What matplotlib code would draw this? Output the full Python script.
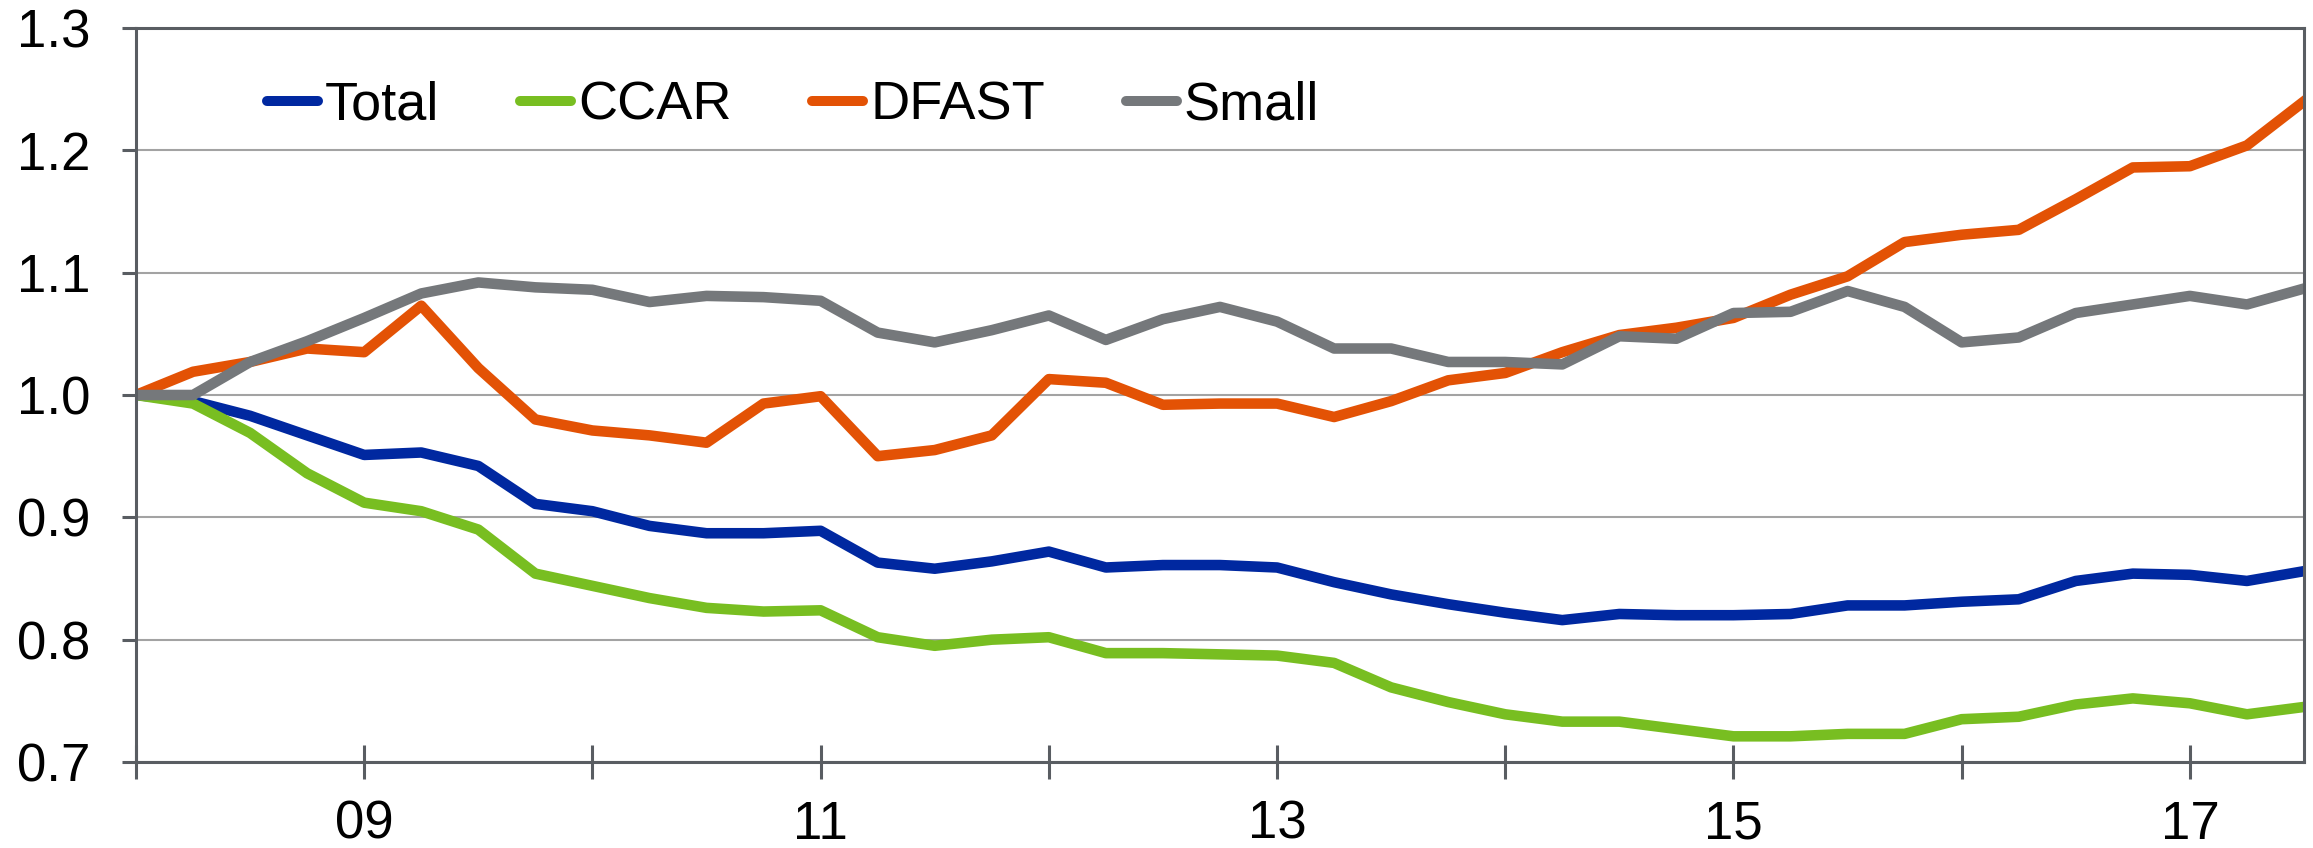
import numpy as np
import matplotlib
matplotlib.use("Agg")
import matplotlib.pyplot as plt

plt.rcParams['font.family'] = ['Liberation Sans', 'DejaVu Sans']

# quarterly index values, 2008Q1 = 1.0
total = [1.000, 0.995, 0.983, 0.967, 0.951, 0.953, 0.942, 0.911, 0.905, 0.893,
         0.887, 0.887, 0.889, 0.863, 0.858, 0.864, 0.872, 0.859, 0.861, 0.861,
         0.859, 0.847, 0.837, 0.829, 0.822, 0.816, 0.821, 0.820, 0.820, 0.821,
         0.828, 0.828, 0.831, 0.833, 0.848, 0.854, 0.853, 0.848, 0.856]
ccar = [1.000, 0.993, 0.969, 0.936, 0.912, 0.905, 0.890, 0.854, 0.844, 0.834,
        0.826, 0.823, 0.824, 0.802, 0.795, 0.800, 0.802, 0.789, 0.789, 0.788,
        0.787, 0.781, 0.761, 0.749, 0.739, 0.733, 0.733, 0.727, 0.721, 0.721,
        0.723, 0.723, 0.735, 0.737, 0.747, 0.752, 0.748, 0.739, 0.745]
dfast = [1.000, 1.019, 1.027, 1.038, 1.035, 1.073, 1.022, 0.980, 0.971, 0.967,
         0.961, 0.993, 0.999, 0.950, 0.955, 0.967, 1.013, 1.010, 0.992, 0.993,
         0.993, 0.982, 0.995, 1.012, 1.018, 1.035, 1.049, 1.055, 1.063, 1.082,
         1.097, 1.125, 1.131, 1.135, 1.160, 1.186, 1.187, 1.204, 1.240]
small = [1.000, 1.000, 1.027, 1.044, 1.063, 1.083, 1.092, 1.088, 1.086, 1.076,
         1.081, 1.080, 1.077, 1.051, 1.043, 1.053, 1.065, 1.045, 1.062, 1.072,
         1.060, 1.038, 1.038, 1.027, 1.027, 1.025, 1.048, 1.046, 1.067, 1.068,
         1.085, 1.072, 1.043, 1.047, 1.067, 1.074, 1.081, 1.074, 1.087]

series = {
    "Total": (total, "#0028A0"),
    "CCAR": (ccar, "#78BE21"),
    "DFAST": (dfast, "#E35205"),
    "Small": (small, "#75787B"),
}

years = list(range(2008, 2018))
year_labels = ["", "09", "", "11", "", "13", "", "15", "", "17"]
yticks = [0.7, 0.8, 0.9, 1.0, 1.1, 1.2, 1.3]
x = 2008 + np.arange(len(total)) / 4

spine_col = "#595D62"

fig = plt.figure(figsize=(23.13, 8.48), dpi=100)
ax = fig.add_axes([0.0588, 0.1014, 0.9373, 0.8656])

for name, (vals, col) in series.items():
    ax.plot(x, vals, color=col, lw=7.6, label=name, solid_joinstyle="round")

ax.set_xlim(2008, 2017.5)
ax.set_ylim(0.7, 1.3)
ax.set_yticks(yticks)
ax.set_yticklabels([f"{v:.1f}" for v in yticks])
ax.set_xticks(years)
ax.set_xticklabels(year_labels)

ax.yaxis.grid(True, color="#A3A3A3", lw=1.5)
ax.set_axisbelow(True)
for sp in ax.spines.values():
    sp.set_color(spine_col)
    sp.set_linewidth(2.2)

ax.tick_params(axis="both", width=2.2, color=spine_col, labelsize=38,
               labelcolor="black")
ax.tick_params(axis="y", direction="out", length=10, pad=23)
ax.tick_params(axis="x", direction="inout", length=24, pad=15)

leg = ax.legend(loc="center left", bbox_to_anchor=(267 / 2313, 1 - 106 / 848),
                bbox_transform=fig.transFigure, ncol=4, frameon=False,
                fontsize=39, handlelength=0.94, handletextpad=0.13,
                columnspacing=1.49, borderpad=0, borderaxespad=0)
for h in leg.get_lines():
    h.set_solid_capstyle("round")
    h.set_linewidth(7.2)

fig.savefig("out.png", dpi=100)
